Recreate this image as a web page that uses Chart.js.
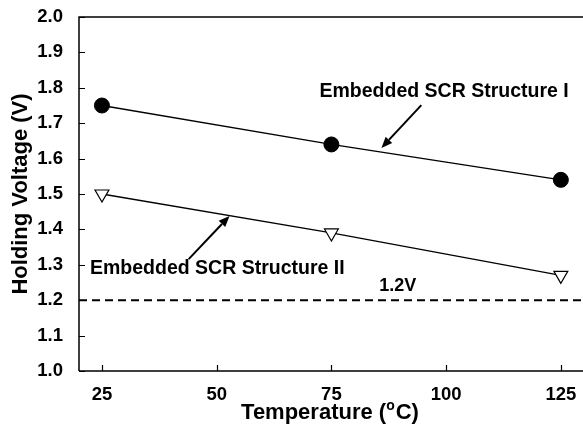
<!DOCTYPE html>
<html><head><meta charset="utf-8">
<script src="https://cdn.jsdelivr.net/npm/chart.js@4/dist/chart.umd.min.js"></script>
<style>html,body{margin:0;padding:0;overflow:hidden;background:#fff;width:583px;height:432px}canvas{display:block}</style>
</head><body><canvas id="c" width="593" height="432" style="width:593px;height:432px"></canvas>
<script>
// ---- data ----
const temperatures = [25, 75, 125];
const structureI = [1.75, 1.64, 1.54];
const structureII = [1.50, 1.39, 1.27];
const limitVoltage = 1.2;
const limitLabel = '1.2V';
const xTickValues = [25, 50, 75, 100, 125];
const yTickValues = [1.0, 1.1, 1.2, 1.3, 1.4, 1.5, 1.6, 1.7, 1.8, 1.9, 2.0];
const xRange = [20, 130];
const yRange = [1.0, 2.0];
const seriesNames = ['Embedded SCR Structure I', 'Embedded SCR Structure II'];
const xTitleParts = ['Temperature (', 'o', 'C)'];
const yTitle = 'Holding Voltage (V)';

// ---- annotation placement (data units) ----
const textNotes = [
  {text: seriesNames[0], x: 72.4, y: 1.788},
  {text: seriesNames[1], x: 22.4, y: 1.29},
  {text: limitLabel, x: 85.4, y: 1.24}
];
const arrowNotes = [
  {from: [94.6, 1.751], to: [85.9, 1.63]},
  {from: [43.9, 1.316], to: [52.8, 1.438]}
];

const FONT = '"Liberation Sans", Arial, sans-serif';

const decor = {
  id: 'decor',
  afterDraw(chart) {
    const ctx = chart.ctx, xs = chart.scales.x, ys = chart.scales.y;
    const a = chart.chartArea;
    ctx.save();
    ctx.strokeStyle = '#000';
    ctx.lineWidth = 1.5;
    // frame
    ctx.beginPath();
    ctx.moveTo(a.left, a.bottom); ctx.lineTo(a.left, a.top); ctx.lineTo(a.right, a.top); ctx.lineTo(a.right, a.bottom); ctx.lineTo(a.left, a.bottom);
    ctx.stroke();
    // inward ticks
    ctx.lineWidth = 1.2;
    ctx.beginPath();
    yTickValues.forEach(v => { const y = Math.round(ys.getPixelForValue(v)) + 0.5; ctx.moveTo(a.left, y); ctx.lineTo(a.left + 6, y); });
    xTickValues.forEach(v => { const x = Math.round(xs.getPixelForValue(v)) + 0.5; ctx.moveTo(x, a.bottom); ctx.lineTo(x, a.bottom - 6); });
    ctx.stroke();
    // arrows
    ctx.lineWidth = 2;
    arrowNotes.forEach(n => {
      const x1 = xs.getPixelForValue(n.from[0]), y1 = ys.getPixelForValue(n.from[1]);
      const x2 = xs.getPixelForValue(n.to[0]), y2 = ys.getPixelForValue(n.to[1]);
      const ang = Math.atan2(y2 - y1, x2 - x1);
      const hl = 11, hw = 4.5;
      const bx = x2 - hl * Math.cos(ang), by = y2 - hl * Math.sin(ang);
      ctx.beginPath(); ctx.moveTo(x1, y1); ctx.lineTo(bx, by); ctx.stroke();
      ctx.beginPath();
      ctx.moveTo(x2, y2);
      ctx.lineTo(bx + hw * Math.sin(ang), by - hw * Math.cos(ang));
      ctx.lineTo(bx - hw * Math.sin(ang), by + hw * Math.cos(ang));
      ctx.closePath(); ctx.fillStyle = '#000'; ctx.fill();
    });
    // texts
    ctx.fillStyle = '#000';
    ctx.textBaseline = 'middle';
    ctx.textAlign = 'left';
    textNotes.forEach((n, i) => {
      ctx.font = 'bold ' + (i === 2 ? 18 : 19.5) + 'px ' + FONT;
      ctx.fillText(n.text, xs.getPixelForValue(n.x), ys.getPixelForValue(n.y));
    });
    // x axis title with superscript
    const big = 'bold 22px ' + FONT, small = 'bold 14px ' + FONT;
    ctx.font = big; const w0 = ctx.measureText(xTitleParts[0]).width, w2 = ctx.measureText(xTitleParts[2]).width;
    ctx.font = small; const w1 = ctx.measureText(xTitleParts[1]).width + 1;
    const cx = (a.left + 583) / 2 - 1;
    let tx = cx - (w0 + w1 + w2) / 2;
    const baseY = 419;
    ctx.textBaseline = 'alphabetic';
    ctx.font = big; ctx.fillText(xTitleParts[0], tx, baseY); tx += w0;
    ctx.font = small; ctx.fillText(xTitleParts[1], tx, baseY - 9); tx += w1;
    ctx.font = big; ctx.fillText(xTitleParts[2], tx, baseY);
    ctx.restore();
  }
};

new Chart(document.getElementById('c'), {
  type: 'scatter',
  data: {
    datasets: [
      {
        label: seriesNames[0],
        data: temperatures.map((t, i) => ({x: t, y: structureI[i]})),
        showLine: true, borderColor: '#000', borderWidth: 1.3,
        pointStyle: 'circle', pointRadius: 7.5, pointBackgroundColor: '#000', pointBorderColor: '#000', pointBorderWidth: 1
      },
      {
        label: seriesNames[1],
        data: temperatures.map((t, i) => ({x: t, y: structureII[i]})),
        showLine: true, borderColor: '#000', borderWidth: 1.3,
        pointStyle: 'triangle', rotation: 180, pointRadius: 8, pointBackgroundColor: '#fff', pointBorderColor: '#000', pointBorderWidth: 1.2
      },
      {
        label: limitLabel,
        data: xRange.map(x => ({x: x, y: limitVoltage})),
        showLine: true, borderColor: '#000', borderWidth: 2, borderDash: [8, 5], pointRadius: 0
      }
    ]
  },
  options: {
    responsive: false,
    animation: false,
    devicePixelRatio: 1,
    layout: {padding: {left: 0, top: 17, right: 3, bottom: 0}},
    plugins: {legend: {display: false}, tooltip: {enabled: false}},
    scales: {
      x: {
        type: 'linear', min: xRange[0], max: xRange[1],
        afterBuildTicks: s => { s.ticks = xTickValues.map(v => ({value: v})); },
        afterFit: s => { s.height = 61; s.paddingLeft = 0; s.paddingRight = 0; },
        grid: {display: false},
        border: {display: false},
        ticks: {color: '#000', padding: 5, font: {family: FONT, size: 18.5, weight: 'bold'}, callback: v => String(v)},
        title: {display: false}
      },
      y: {
        type: 'linear', min: yRange[0], max: yRange[1],
        afterBuildTicks: s => { s.ticks = yTickValues.map(v => ({value: v})); },
        afterFit: s => { s.width = 79; s.paddingTop = 0; s.paddingBottom = 0; },
        grid: {display: false},
        border: {display: false},
        ticks: {color: '#000', padding: 8, font: {family: FONT, size: 18.5, weight: 'bold'}, callback: v => v.toFixed(1)},
        title: {display: true, text: yTitle, color: '#000', font: {family: FONT, size: 22, weight: 'bold'}, padding: {top: 8, bottom: 0}}
      }
    }
  },
  plugins: [decor]
});
</script>
</body></html>
